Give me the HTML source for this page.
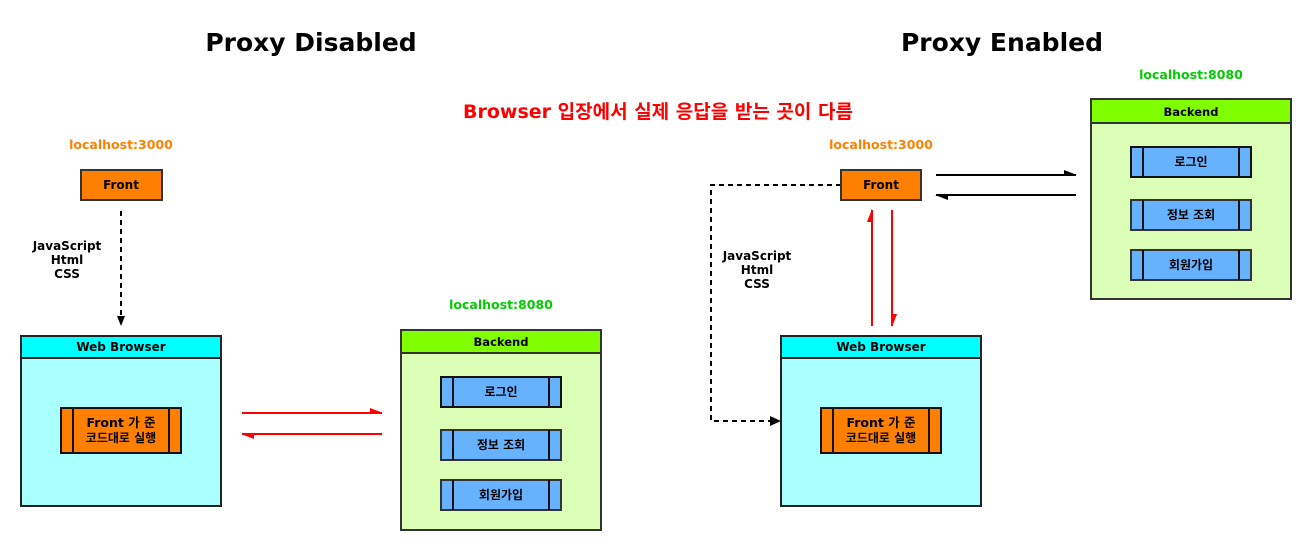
<!DOCTYPE html>
<html><head><meta charset="utf-8"><style>
html,body{margin:0;padding:0;background:#fff;}
svg{display:block;}
text{font-family:"DejaVu Sans","Noto Sans CJK KR",sans-serif;font-weight:bold;}
</style></head><body>
<svg width="1312" height="551" viewBox="0 0 1312 551" xmlns="http://www.w3.org/2000/svg">
<g text-anchor="middle">
<text x="311" y="51" font-size="25" fill="#000">Proxy Disabled</text>
<text x="1002" y="51" font-size="25" fill="#000">Proxy Enabled</text>
<text x="658" y="118" font-size="19" fill="#ff0000">Browser 입장에서 실제 응답을 받는 곳이 다름</text>

<!-- LEFT -->
<text x="121" y="149" font-size="12.5" fill="#ff8000">localhost:3000</text>
<rect x="81" y="170" width="81" height="30" fill="#ff8000" stroke="#333" stroke-width="2"/>
<text x="121" y="189" font-size="12">Front</text>
<line x1="121" y1="211" x2="121" y2="318" stroke="#000" stroke-width="2" stroke-dasharray="5,4"/>
<polygon points="117,316 125,316 121,326" fill="#000"/>
<text x="67" y="250" font-size="12">JavaScript</text>
<text x="67" y="264" font-size="12">Html</text>
<text x="67" y="278" font-size="12">CSS</text>

<rect x="21" y="336" width="200" height="170" fill="#aaffff" stroke="#222" stroke-width="2"/>
<rect x="21" y="336" width="200" height="22" fill="#00ffff" stroke="#222" stroke-width="2"/>
<text x="121" y="351" font-size="12">Web Browser</text>
<rect x="61" y="408" width="120" height="45" fill="#ff8000" stroke="#111" stroke-width="2"/>
<line x1="73" y1="408" x2="73" y2="453" stroke="#111" stroke-width="2"/>
<line x1="169" y1="408" x2="169" y2="453" stroke="#111" stroke-width="2"/>
<text x="121" y="427" font-size="12.5">Front 가 준</text>
<text x="121" y="442" font-size="12">코드대로 실행</text>

<line x1="242" y1="413" x2="382" y2="413" stroke="#ff0000" stroke-width="2"/>
<polygon points="370,408 383,413 370,413" fill="#ff0000"/>
<line x1="242" y1="434" x2="382" y2="434" stroke="#ff0000" stroke-width="2"/>
<polygon points="254,434 241,434 254,439" fill="#ff0000"/>

<text x="501" y="309" font-size="12.5" fill="#00cc00">localhost:8080</text>
<rect x="401" y="330" width="200" height="200" fill="#dbffb6" stroke="#333" stroke-width="2"/>
<rect x="401" y="330" width="200" height="23" fill="#80ff00" stroke="#333" stroke-width="2"/>
<text x="501" y="346" font-size="11.5">Backend</text>
<g>
<rect x="441" y="377" width="120" height="30" fill="#66b2ff" stroke="#111" stroke-width="2"/>
<line x1="453" y1="377" x2="453" y2="407" stroke="#111" stroke-width="2"/>
<line x1="549" y1="377" x2="549" y2="407" stroke="#111" stroke-width="2"/>
<text x="501" y="396" font-size="12">로그인</text>
<rect x="441" y="430" width="120" height="30" fill="#66b2ff" stroke="#333" stroke-width="2"/>
<line x1="453" y1="430" x2="453" y2="460" stroke="#111" stroke-width="2"/>
<line x1="549" y1="430" x2="549" y2="460" stroke="#111" stroke-width="2"/>
<text x="501" y="449" font-size="12">정보 조회</text>
<rect x="441" y="480" width="120" height="30" fill="#66b2ff" stroke="#333" stroke-width="2"/>
<line x1="453" y1="480" x2="453" y2="510" stroke="#111" stroke-width="2"/>
<line x1="549" y1="480" x2="549" y2="510" stroke="#111" stroke-width="2"/>
<text x="501" y="499" font-size="12">회원가입</text>
</g>

<!-- RIGHT -->
<text x="881" y="149" font-size="12.5" fill="#ff8000">localhost:3000</text>
<polyline points="841,185 711,185 711,421 772,421" fill="none" stroke="#000" stroke-width="2" stroke-dasharray="5,4"/>
<polygon points="770,416 781,421 770,426" fill="#000"/>
<rect x="841" y="170" width="80" height="30" fill="#ff8000" stroke="#333" stroke-width="2"/>
<text x="881" y="189" font-size="12">Front</text>
<text x="757" y="260" font-size="12">JavaScript</text>
<text x="757" y="274" font-size="12">Html</text>
<text x="757" y="288" font-size="12">CSS</text>

<line x1="872" y1="210" x2="872" y2="326" stroke="#ff0000" stroke-width="2"/>
<polygon points="872,209 867,222 872,222" fill="#ff0000"/>
<line x1="892" y1="210" x2="892" y2="326" stroke="#ff0000" stroke-width="2"/>
<polygon points="892,327 897,314 892,314" fill="#ff0000"/>

<line x1="936" y1="175" x2="1076" y2="175" stroke="#000" stroke-width="2"/>
<polygon points="1064,170 1077,175 1064,175" fill="#000"/>
<line x1="936" y1="195" x2="1076" y2="195" stroke="#000" stroke-width="2"/>
<polygon points="948,195 935,195 948,200" fill="#000"/>

<rect x="781" y="336" width="200" height="170" fill="#aaffff" stroke="#222" stroke-width="2"/>
<rect x="781" y="336" width="200" height="22" fill="#00ffff" stroke="#222" stroke-width="2"/>
<text x="881" y="351" font-size="12">Web Browser</text>
<rect x="821" y="408" width="120" height="45" fill="#ff8000" stroke="#111" stroke-width="2"/>
<line x1="833" y1="408" x2="833" y2="453" stroke="#111" stroke-width="2"/>
<line x1="929" y1="408" x2="929" y2="453" stroke="#111" stroke-width="2"/>
<text x="881" y="427" font-size="12.5">Front 가 준</text>
<text x="881" y="442" font-size="12">코드대로 실행</text>

<text x="1191" y="79" font-size="12.5" fill="#00cc00">localhost:8080</text>
<rect x="1091" y="99" width="200" height="200" fill="#dbffb6" stroke="#333" stroke-width="2"/>
<rect x="1091" y="99" width="200" height="24" fill="#80ff00" stroke="#333" stroke-width="2"/>
<text x="1191" y="116" font-size="11.5">Backend</text>
<rect x="1131" y="147" width="120" height="30" fill="#66b2ff" stroke="#111" stroke-width="2"/>
<line x1="1143" y1="147" x2="1143" y2="177" stroke="#111" stroke-width="2"/>
<line x1="1239" y1="147" x2="1239" y2="177" stroke="#111" stroke-width="2"/>
<text x="1191" y="166" font-size="12">로그인</text>
<rect x="1131" y="200" width="120" height="30" fill="#66b2ff" stroke="#333" stroke-width="2"/>
<line x1="1143" y1="200" x2="1143" y2="230" stroke="#111" stroke-width="2"/>
<line x1="1239" y1="200" x2="1239" y2="230" stroke="#111" stroke-width="2"/>
<text x="1191" y="219" font-size="12">정보 조회</text>
<rect x="1131" y="250" width="120" height="30" fill="#66b2ff" stroke="#333" stroke-width="2"/>
<line x1="1143" y1="250" x2="1143" y2="280" stroke="#111" stroke-width="2"/>
<line x1="1239" y1="250" x2="1239" y2="280" stroke="#111" stroke-width="2"/>
<text x="1191" y="269" font-size="12">회원가입</text>
</g>
</svg>
</body></html>
